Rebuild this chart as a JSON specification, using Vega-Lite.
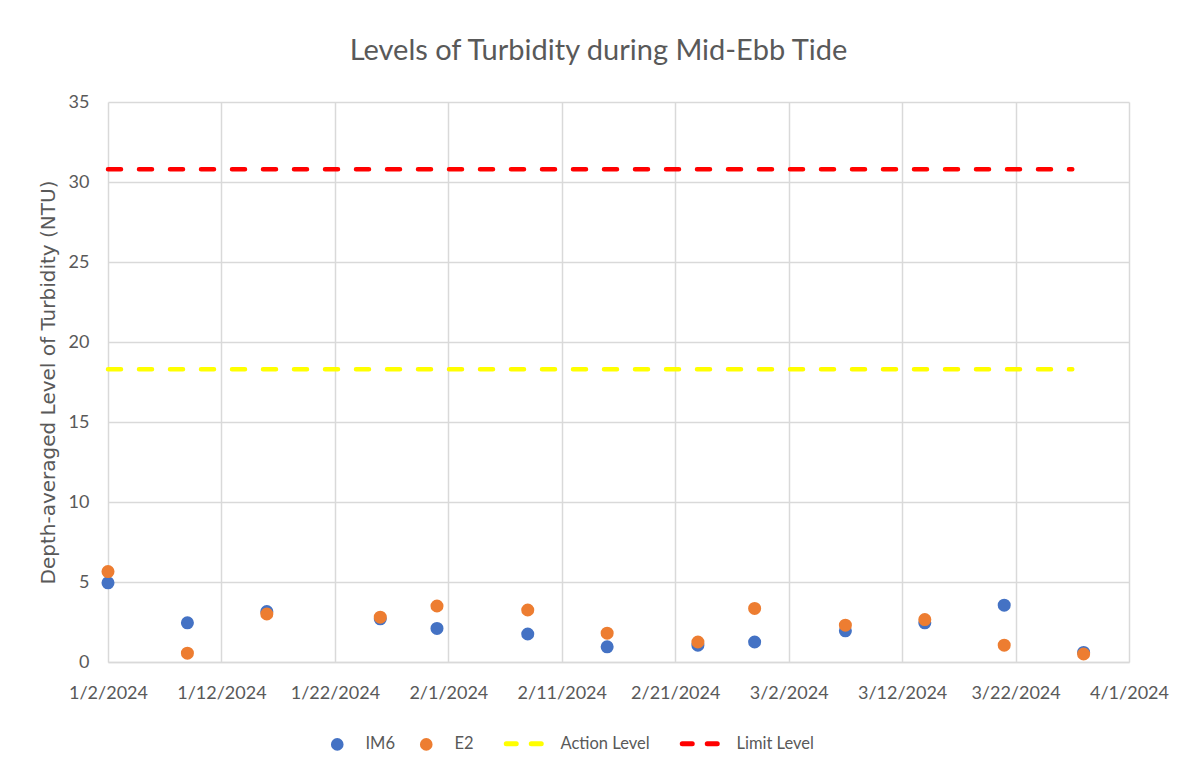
{
  "$schema": "https://vega.github.io/schema/vega-lite/v6.json",
  "width": 1021,
  "height": 560,
  "autosize": {"type": "pad"},
  "padding": {"left": 38, "top": 37, "right": 20, "bottom": 20},
  "background": "white",
  "title": {
    "text": "Levels of Turbidity during Mid-Ebb Tide",
    "fontSize": 29,
    "font": "Lato",
    "fontWeight": "normal",
    "color": "#595959",
    "offset": 27,
    "dx": -20
  },
  "config": {
    "font": "Lato",
    "view": {"stroke": null}
  },
  "data": {
    "values": [
      {"date": "2024-01-02", "series": "IM6", "value": 4.95},
      {"date": "2024-01-02", "series": "E2", "value": 5.65},
      {"date": "2024-01-09", "series": "IM6", "value": 2.45},
      {"date": "2024-01-09", "series": "E2", "value": 0.55},
      {"date": "2024-01-16", "series": "IM6", "value": 3.15},
      {"date": "2024-01-16", "series": "E2", "value": 3.0},
      {"date": "2024-01-26", "series": "IM6", "value": 2.7},
      {"date": "2024-01-26", "series": "E2", "value": 2.8},
      {"date": "2024-01-31", "series": "IM6", "value": 2.1},
      {"date": "2024-01-31", "series": "E2", "value": 3.5},
      {"date": "2024-02-08", "series": "IM6", "value": 1.75},
      {"date": "2024-02-08", "series": "E2", "value": 3.25},
      {"date": "2024-02-15", "series": "IM6", "value": 0.95},
      {"date": "2024-02-15", "series": "E2", "value": 1.8},
      {"date": "2024-02-23", "series": "IM6", "value": 1.05},
      {"date": "2024-02-23", "series": "E2", "value": 1.25},
      {"date": "2024-02-28", "series": "IM6", "value": 1.25},
      {"date": "2024-02-28", "series": "E2", "value": 3.35},
      {"date": "2024-03-07", "series": "IM6", "value": 1.95},
      {"date": "2024-03-07", "series": "E2", "value": 2.3},
      {"date": "2024-03-14", "series": "IM6", "value": 2.45},
      {"date": "2024-03-14", "series": "E2", "value": 2.65},
      {"date": "2024-03-21", "series": "IM6", "value": 3.55},
      {"date": "2024-03-21", "series": "E2", "value": 1.05},
      {"date": "2024-03-28", "series": "IM6", "value": 0.6},
      {"date": "2024-03-28", "series": "E2", "value": 0.5},
      {"date": "2024-01-02", "series": "Action Level", "value": 18.3},
      {"date": "2024-03-27", "series": "Action Level", "value": 18.3},
      {"date": "2024-01-02", "series": "Limit Level", "value": 30.8},
      {"date": "2024-03-27", "series": "Limit Level", "value": 30.8}
    ]
  },
  "encoding": {
    "x": {
      "field": "date",
      "type": "temporal",
      "scale": {
        "type": "utc",
        "domain": [
          {"year": 2024, "month": 1, "date": 2, "utc": true},
          {"year": 2024, "month": 4, "date": 1, "utc": true}
        ]
      },
      "axis": {
        "title": null,
        "values": [
          {"year": 2024, "month": 1, "date": 2, "utc": true},
          {"year": 2024, "month": 1, "date": 12, "utc": true},
          {"year": 2024, "month": 1, "date": 22, "utc": true},
          {"year": 2024, "month": 2, "date": 1, "utc": true},
          {"year": 2024, "month": 2, "date": 11, "utc": true},
          {"year": 2024, "month": 2, "date": 21, "utc": true},
          {"year": 2024, "month": 3, "date": 2, "utc": true},
          {"year": 2024, "month": 3, "date": 12, "utc": true},
          {"year": 2024, "month": 3, "date": 22, "utc": true},
          {"year": 2024, "month": 4, "date": 1, "utc": true}
        ],
        "labelExpr": "utcFormat(datum.value, '%-m/%-d/%Y')",
        "labelFlush": false,
        "labelOverlap": false,
        "labelBound": false,
        "labelFontSize": 18,
        "labelColor": "#595959",
        "labelPadding": 22,
        "ticks": false,
        "domainColor": "#D9D9D9",
        "domainWidth": 1.5,
        "grid": true,
        "gridColor": "#D9D9D9",
        "gridWidth": 1.5
      }
    },
    "y": {
      "field": "value",
      "type": "quantitative",
      "scale": {"domain": [0, 35], "nice": false, "zero": true},
      "axis": {
        "title": "Depth-averaged Level of  Turbidity (NTU)",
        "titleFont": "DejaVu Sans",
        "titleFontSize": 20,
        "titleFontWeight": "normal",
        "titleColor": "#595959",
        "titlePadding": 10,
        "values": [0, 5, 10, 15, 20, 25, 30, 35],
        "labelFontSize": 18,
        "labelColor": "#595959",
        "labelPadding": 19,
        "ticks": false,
        "domain": false,
        "grid": true,
        "gridColor": "#D9D9D9",
        "gridWidth": 1.5
      }
    },
    "color": {
      "field": "series",
      "type": "nominal",
      "scale": {
        "domain": ["IM6", "E2", "Action Level", "Limit Level"],
        "range": ["#4472C4", "#ED7D31", "#FFFF00", "#FF0000"]
      },
      "legend": {
        "orient": "none",
        "legendX": 221,
        "legendY": 633,
        "direction": "horizontal",
        "title": null,
        "labelFontSize": 16.5,
        "labelColor": "#595959",
        "labelOffset": 20,
        "columnPadding": 22,
        "symbolSize": 1296,
        "encode": {
          "labels": {
            "update": {
              "dx": {"signal": "datum.value === 'IM6' || datum.value === 'E2' ? 0 : 8"}
            }
          },
          "symbols": {
            "update": {
              "shape": {"signal": "datum.value === 'IM6' || datum.value === 'E2' ? 'circle' : 'stroke'"},
              "size": {"signal": "datum.value === 'IM6' || datum.value === 'E2' ? 160 : 1296"},
              "fill": {"signal": "datum.value === 'IM6' || datum.value === 'E2' ? scale('color', datum.value) : 'transparent'"},
              "stroke": {"signal": "scale('color', datum.value)"},
              "strokeWidth": {"signal": "datum.value === 'IM6' || datum.value === 'E2' ? 0 : 5"},
              "strokeDash": {"signal": "datum.value === 'IM6' || datum.value === 'E2' ? [1, 0] : [10, 15]"},
              "strokeCap": {"value": "round"},
              "opacity": {"value": 1}
            }
          }
        }
      }
    }
  },
  "layer": [
    {
      "transform": [{"filter": "datum.series === 'Action Level' || datum.series === 'Limit Level'"}],
      "mark": {"type": "line", "strokeWidth": 4.5, "strokeDash": [13, 18], "strokeCap": "round"},
      "encoding": {"detail": {"field": "series"}}
    },
    {
      "transform": [{"filter": "datum.series === 'IM6' || datum.series === 'E2'"}],
      "mark": {"type": "point", "filled": true, "opacity": 1, "size": 170, "shape": "circle"}
    }
  ]
}
